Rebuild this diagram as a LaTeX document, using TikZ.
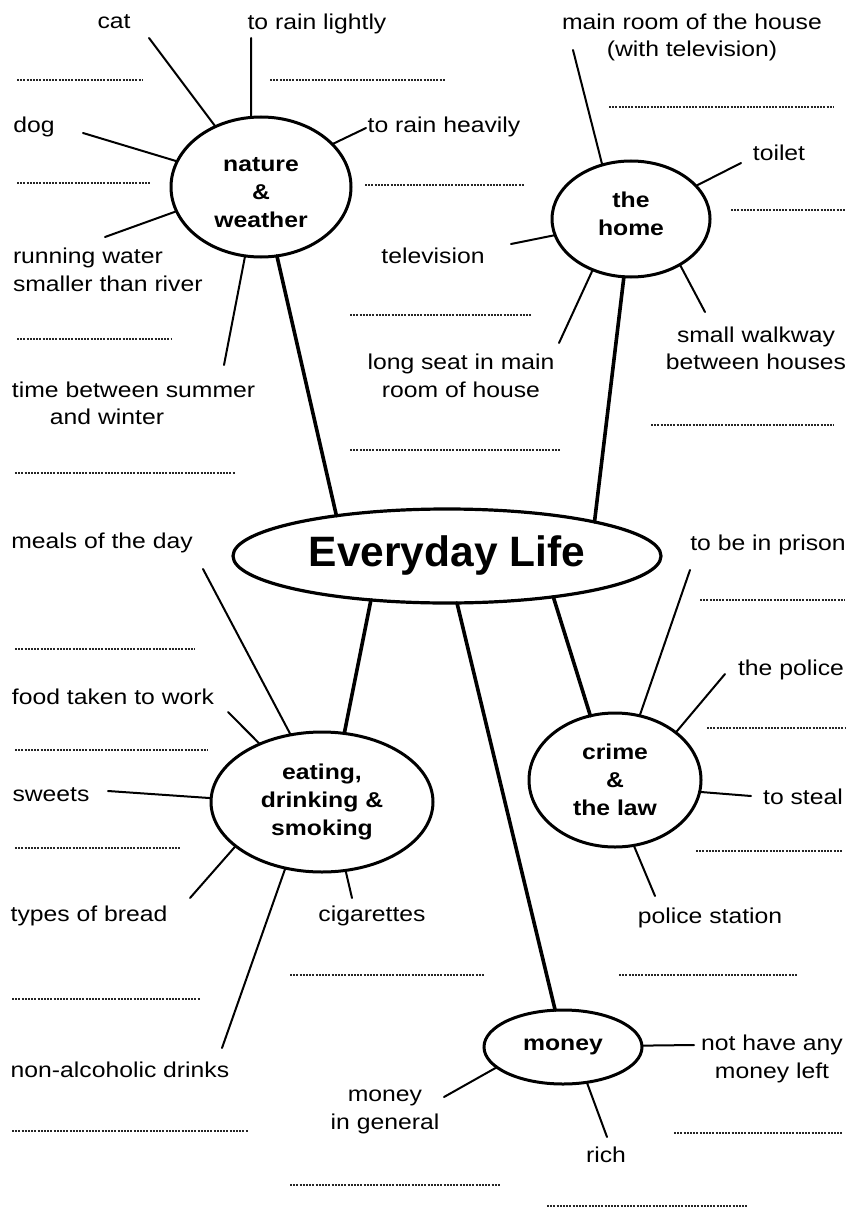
\documentclass[tikz,border=0pt]{standalone}
\usepackage{fontspec}
\setmainfont{Liberation Sans}
\newfontfamily\lblfont[FakeStretch=1.15]{Liberation Sans}
\usetikzlibrary{shapes.geometric}
\begin{document}
\begin{tikzpicture}[x=1pt,y=-1pt,
  lbl/.style={font=\lblfont\fontsize{21.5}{27.5}\selectfont, inner sep=0pt, outer sep=0pt, align=center},
  lbll/.style={lbl, align=left, anchor=west},
  topic/.style={draw, line width=3pt, ellipse, inner sep=0pt, outer sep=0pt, align=center,
                font=\lblfont\bfseries\fontsize{21.5}{28}\selectfont},
  spoke/.style={line width=2pt, line cap=round},
  trunk/.style={line width=3.6pt, line cap=round},
  blank/.style={line width=1.4pt, dash pattern=on 2pt off 1.2pt, black!85}
]
\useasboundingbox (0,0) rectangle (848,1209);
\fill[white] (0,0) rectangle (848,1209);

% ---- topic ellipses ----
\node[topic, minimum width=428pt, minimum height=94pt, line width=3.2pt,
      font=\bfseries\fontsize{42.5}{50}\selectfont] (ev) at (447,556) {Everyday Life};
\node[topic, minimum width=180pt, minimum height=140pt] (nw) at (261,187)
     {\rule{0pt}{25pt}nature\\\&\\weather};
\node[topic, minimum width=158pt, minimum height=116pt] (hm) at (631,219)
     {the\\home\rule[-10pt]{0pt}{10pt}};
\node[topic, minimum width=222pt, minimum height=140pt] (ed) at (322,802) {eating,\\drinking \&\\smoking};
\node[topic, minimum width=172pt, minimum height=134pt] (cl) at (615,780) {crime\\\&\\the law};
\node[topic, minimum width=158pt, minimum height=74pt] (mo) at (563,1047) {money};

% ---- trunks from the centre ----
\draw[trunk] (ev.160.6) -- (nw.283.7);
\draw[trunk] (ev.13.3) -- (hm.263.1);
\draw[trunk] (ev.210.4) -- (ed.72.6);
\draw[trunk] (ev.282) -- (mo.102.2);
\draw[trunk] (ev.339.6) -- (cl.111.8);

% ---- labels ----
\node[lbl] (cat) at (114,22) {cat};
\node[lbl] (rainl) at (317,24) {to rain lightly};
\node[lbl] (mainroom) at (692,37.5) {main room of the house\\(with television)};
\node[lbl] (dog) at (34,127) {dog};
\node[lbl] (rainh) at (444,127) {to rain heavily};
\node[lbl] (toilet) at (779,153) {toilet};
\node[lbll] (stream) at (13,270) {running water\\smaller than river};
\node[lbl] (tv) at (433,256) {television};
\node[lbl] (sofa) at (461,376) {long seat in main\\room of house};
\node[lbl] (alley) at (756,348.5) {small walkway\\between houses};
\node[lbll] (autumn) at (12,403.5) {time between summer\\\hspace*{38pt}and winter};
\node[lbl] (meals) at (102,543) {meals of the day};
\node[lbl] (prison) at (768,545) {to be in prison};
\node[lbl] (food) at (113,697) {food taken to work};
\node[lbl] (police) at (791,670) {the police};
\node[lbl] (sweets) at (51,795) {sweets};
\node[lbl] (steal) at (803,797) {to steal};
\node[lbl] (bread) at (89,916) {types of bread};
\node[lbl] (cig) at (372,916) {cigarettes};
\node[lbl] (station) at (710,918) {police station};
\node[lbl] (drinks) at (120,1070) {non-alcoholic drinks};
\node[lbl] (mgen) at (385,1112) {money\\in general};
\node[lbl] (broke) at (772,1059) {not have any\\money left};
\node[lbl] (rich) at (606,1155) {rich};

% ---- spoke ends ----
\coordinate (catE) at (149,38);
\coordinate (rainlE) at (251,38);
\coordinate (dogE) at (83,133);
\coordinate (rainhE) at (366,128);
\coordinate (streamE) at (105,237);
\coordinate (autumnE) at (224,365);
\coordinate (mainroomE) at (573,50);
\coordinate (toiletE) at (741,163);
\coordinate (tvE) at (511,244);
\coordinate (sofaE) at (559,343);
\coordinate (alleyE) at (705,312);
\coordinate (mealsE) at (203,569);
\coordinate (foodE) at (228,712);
\coordinate (sweetsE) at (108,791);
\coordinate (breadE) at (190,898);
\coordinate (drinksE) at (222,1048);
\coordinate (cigE) at (352,898);
\coordinate (prisonE) at (690,570);
\coordinate (policeE) at (725,674);
\coordinate (stealE) at (751,796);
\coordinate (stationE) at (655,896);
\coordinate (brokeE) at (694,1045);
\coordinate (mgenE) at (444,1097);
\coordinate (richE) at (607,1137);

% ---- spokes ----
\draw[spoke] (nw.127.7) -- (catE);
\draw[spoke] (nw.98.2) -- (rainlE);
\draw[spoke] (nw.163.9) -- (dogE);
\draw[spoke] (nw.31.1) -- (rainhE);
\draw[spoke] (nw.196.9) -- (streamE);
\draw[spoke] (nw.257.7) -- (autumnE);
\draw[spoke] (hm.118.5) -- (mainroomE);
\draw[spoke] (hm.27.3) -- (toiletE);
\draw[spoke] (hm.192.3) -- (tvE);
\draw[spoke] (hm.233.3) -- (sofaE);
\draw[spoke] (hm.317.4) -- (alleyE);
\draw[spoke] (ed.115.5) -- (mealsE);
\draw[spoke] (ed.137.7) -- (foodE);
\draw[spoke] (ed.178.9) -- (sweetsE);
\draw[spoke] (ed.207.8) -- (breadE);
\draw[spoke] (ed.241.1) -- (drinksE);
\draw[spoke] (ed.289.7) -- (cigE);
\draw[spoke] (cl.69.4) -- (prisonE);
\draw[spoke] (cl.38.9) -- (policeE);
\draw[spoke] (cl.352.1) -- (stealE);
\draw[spoke] (cl.286.6) -- (stationE);
\draw[spoke] (mo.1.5) -- (brokeE);
\draw[spoke] (mo.197.5) -- (mgenE);
\draw[spoke] (mo.304.4) -- (richE);

% ---- dotted answer lines ----
\draw[blank] (17,80) -- (142,80);
\draw[blank] (270,80) -- (445,80);
\draw[blank] (609,107) -- (834,107);
\draw[blank] (17,183) -- (150,183);
\draw[blank] (365,185) -- (524,185);
\draw[blank] (731,210) -- (845,210);
\draw[blank] (17,339) -- (172,339);
\draw[blank] (350,315) -- (532,315);
\draw[blank] (15,473) -- (235,473);
\draw[blank] (350,450) -- (561,450);
\draw[blank] (651,425) -- (834,425);
\draw[blank] (700,600) -- (845,600);
\draw[blank] (15,649) -- (195,649);
\draw[blank] (707,728) -- (845,728);
\draw[blank] (15,750) -- (208,750);
\draw[blank] (15,848) -- (180,848);
\draw[blank] (696,851) -- (842,851);
\draw[blank] (290,975) -- (485,975);
\draw[blank] (619,975) -- (797,975);
\draw[blank] (12,999) -- (200,999);
\draw[blank] (12,1131) -- (248,1131);
\draw[blank] (674,1133) -- (842,1133);
\draw[blank] (290,1185) -- (500,1185);
\draw[blank] (547,1206) -- (747,1206);
\end{tikzpicture}
\end{document}
